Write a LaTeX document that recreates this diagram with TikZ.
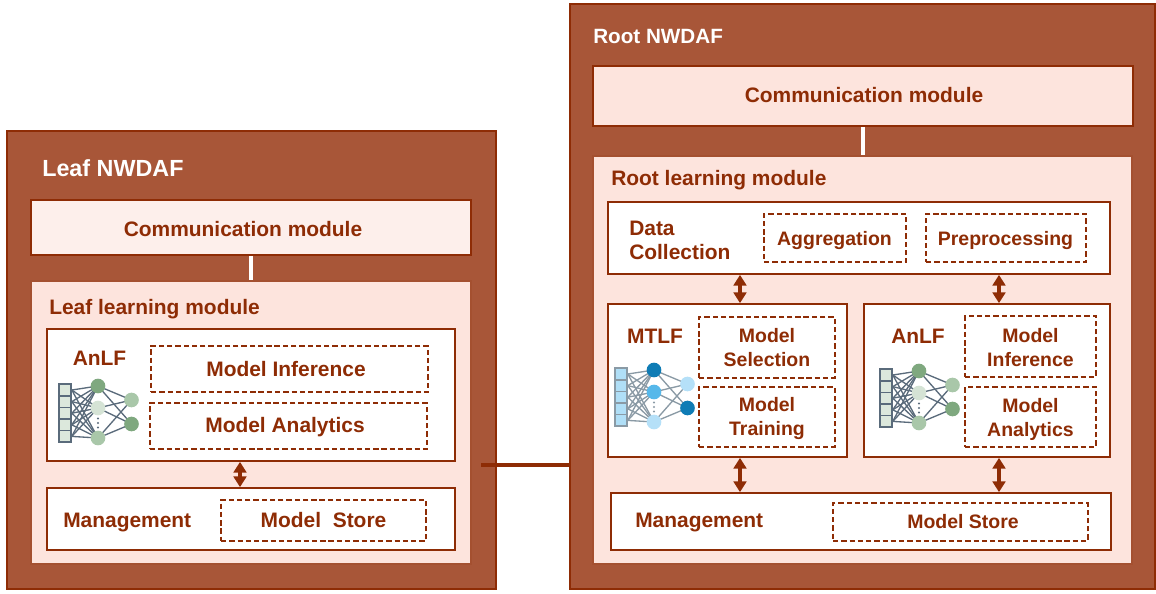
\documentclass[tikz,border=0pt]{standalone}
\usepackage{fontspec}
\setmainfont{Liberation Sans}
\usetikzlibrary{arrows.meta,calc}
\definecolor{rust}{HTML}{8E2C05}
\definecolor{brick}{HTML}{A85638}
\definecolor{paleA}{HTML}{FDEFEB}
\definecolor{paleB}{HTML}{FDE4DD}
\definecolor{gA}{HTML}{7FA87F}\definecolor{gB}{HTML}{D5E3D5}\definecolor{gC}{HTML}{A9C7A9}\definecolor{gCell}{HTML}{DCE8DC}\definecolor{gLine}{HTML}{5A6B7B}
\definecolor{bA}{HTML}{0F7CB5}\definecolor{bB}{HTML}{56B8EA}\definecolor{bC}{HTML}{B5E0F8}\definecolor{bCell}{HTML}{B0DFF7}\definecolor{bLine}{HTML}{8A9AA5}
\newcommand{\bx}[6]{% style name x1 y1 x2 y2
  \node[#1,minimum width={(#5-#3)*0.75pt},minimum height={(#6-#4)*0.75pt}] (#2) at ({(#3+#5)/2},{(#4+#6)/2}) {};}
\newcommand{\nnet}[8]{% prefix dx dy cell line top mid bottom
  \begin{scope}[shift={(#2,#3)}]
    \foreach \i in {0,...,4}{
      \node[cellbox,fill=#4,draw=#5] (#1c\i) at (65,{390+\i*11.6}) {};}
    \coordinate (#1h0) at (98,386);
    \coordinate (#1h1) at (98,408);
    \coordinate (#1h2) at (98,438);
    \coordinate (#1o0) at (131.5,400);
    \coordinate (#1o1) at (131.5,424);
    \foreach \i in {0,...,4}\foreach \j in {0,1,2}{\draw[netedge,draw=#5] (#1c\i.east) -- (#1h\j);}
    \foreach \j in {0,1,2}\foreach \k in {0,1}{\draw[netedge,draw=#5] (#1h\j) -- (#1o\k);}
    \node[nnode,fill=#6] at (#1h0) {};
    \node[nnode,fill=#7] at (#1h1) {};
    \node[nnode,fill=#8] at (#1h2) {};
    \node[nnode,fill=#8] at (#1o0) {};
    \node[nnode,fill=#6] at (#1o1) {};
    \foreach \d in {418.5,423,427.5}{\fill[#5] (98,\d) circle[radius=1.1];}
  \end{scope}}
\tikzset{
  outer/.style={draw=rust,fill=brick,line width=2.2pt,inner sep=0pt},
  commbox/.style={draw=rust,line width=1.2pt,inner sep=0pt},
  learnbox/.style={draw=brick!85!rust,fill=paleB,line width=1.3pt,inner sep=0pt},
  whitebox/.style={draw=rust,fill=white,line width=1.3pt,inner sep=0pt},
  dashbox/.style={draw=rust,fill=white,dash pattern=on 4pt off 2.2pt,line width=1pt,inner sep=0pt},
  lab/.style={text=rust,font=\bfseries\fontsize{15.7}{18}\selectfont,align=center,inner sep=0pt},
  labs/.style={text=rust,font=\bfseries\fontsize{14.6}{18}\selectfont,align=center,inner sep=0pt},
  title/.style={text=white,font=\bfseries\fontsize{15.5}{18}\selectfont,inner sep=0pt},
  cellbox/.style={minimum width=9pt,minimum height=8.7pt,inner sep=0pt,line width=1.2pt},
  nnode/.style={circle,minimum size=11pt,inner sep=0pt},
  netedge/.style={line width=1pt},
  dbl/.style={rust,line width=3pt,{Triangle[length=8pt,width=9.5pt]}-{Triangle[length=8pt,width=9.5pt]}},
  whitelink/.style={draw=white,line width=2.3pt},
  linkline/.style={draw=rust,line width=2.3pt}
}
\begin{document}
\begin{tikzpicture}[x=0.75pt,y=-0.75pt]
\useasboundingbox (0,0) rectangle (1156,593);
% Leaf
\bx{outer}{leaf}{7}{131}{496}{589}
\bx{commbox,fill=paleA}{lcomm}{31}{200}{471}{255}
\bx{learnbox}{llearn}{31}{281}{471}{564}
\bx{whitebox}{lanlf}{47}{329}{455}{461}
\bx{whitebox}{lmgmt}{47}{488}{455}{550}
\bx{dashbox}{linf}{151}{346}{428}{392}
\bx{dashbox}{lana}{150}{403}{427}{449}
\bx{dashbox}{lstore}{221}{500}{426}{541}
% Root
\bx{outer}{root}{570}{4}{1155}{589}
\bx{commbox,fill=paleB}{rcomm}{593}{66}{1133}{126}
\bx{learnbox}{rlearn}{593}{156}{1132}{564}
\bx{whitebox}{rdata}{608}{202}{1110}{274}
\bx{dashbox}{ragg}{764}{214}{906}{262}
\bx{dashbox}{rpre}{926}{214}{1086}{262}
\bx{whitebox}{rmtlf}{608}{304}{847}{457}
\bx{dashbox}{rsel}{699}{317}{835}{378}
\bx{dashbox}{rtrain}{699}{387}{835}{447}
\bx{whitebox}{ranlf}{864}{304}{1110}{457}
\bx{dashbox}{rinf}{965}{316}{1096}{377}
\bx{dashbox}{rana}{965}{387}{1096}{447}
\bx{whitebox}{rmgmt}{611}{493}{1111}{550}
\bx{dashbox}{rstore}{833}{503}{1088}{541}
% Connectors
\coordinate (xa) at (240,0);
\coordinate (xb) at (740,0);
\coordinate (xc) at (999,0);
\coordinate (linkstart) at (481,465);
\draw[whitelink] (lcomm.south) -- (llearn.north);
\draw[whitelink] (rcomm.south) -- (rcomm.south |- rlearn.north);
\draw[dbl] (xa |- lanlf.south) -- (xa |- lmgmt.north);
\draw[dbl] (xb |- rdata.south) -- (xb |- rmtlf.north);
\draw[dbl] (xc |- rdata.south) -- (xc |- ranlf.north);
\draw[dbl] (xb |- rmtlf.south) -- (xb |- rmgmt.north);
\draw[dbl] (xc |- ranlf.south) -- (xc |- rmgmt.north);
\draw[linkline] (linkstart) -- (root.west |- linkstart);
% Labels
\node[title,anchor=west,font=\bfseries\fontsize{17.5}{20}\selectfont] (t1) at (42,168) {Leaf NWDAF};
\node[title,anchor=west] (t2) at (593,36) {Root NWDAF};
\node[lab] (l1) at (243,229) {Communication module};
\node[lab] (l2) at (864,95) {Communication module};
\node[lab,anchor=west] (l3) at (49,309) {Leaf learning module};
\node[lab,anchor=west] (l4) at (611,180) {Root learning module};
\node[lab] (l5) at (99.5,358) {AnLF};
\node[lab] at (286,369) {Model Inference};
\node[lab] at (285,427) {Model Analytics};
\node[lab,anchor=west] at (63,523) {Management};
\node[lab] at (323.5,520) {Model\ \ Store};
\node[lab,anchor=west] at (629,242.5) {\begin{tabular}{@{}l@{}}Data\\Collection\end{tabular}};
\node[labs] at (834.5,241) {Aggregation};
\node[labs] at (1005.5,241) {Preprocessing};
\node[lab] at (655,336) {MTLF};
\node[labs] at (767,347.5) {Model\\Selection};
\node[labs] at (767,419) {Model\\Training};
\node[lab] at (918,336) {AnLF};
\node[labs] at (1030.5,347.5) {Model\\Inference};
\node[labs] at (1030.5,419.5) {Model\\Analytics};
\node[lab,anchor=west] at (635,523) {Management};
\node[labs] at (963,521.5) {Model Store};
% Networks
\nnet{a}{0}{0}{gCell}{gLine}{gA}{gB}{gC}
\nnet{b}{556}{-16}{bCell}{bLine}{bA}{bB}{bC}
\nnet{c}{821}{-15}{gCell}{gLine}{gA}{gB}{gC}
\end{tikzpicture}
\end{document}
